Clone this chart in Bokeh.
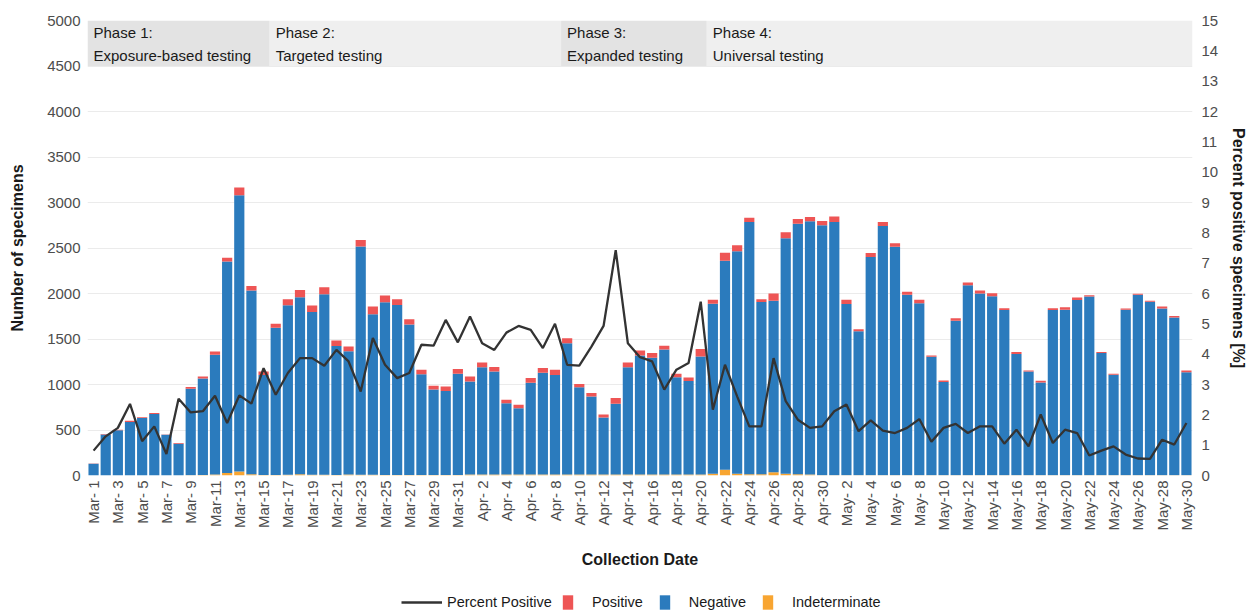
import math
import pandas as pd
from bokeh.plotting import figure
from bokeh.layouts import column
from bokeh.models import (Range1d, LinearAxis, FixedTicker, ColumnDataSource,
                          Legend, LegendItem)
from bokeh.core.properties import value
from bokeh.embed import file_html
from bokeh.resources import INLINE

# ---------------- data ----------------
dates = pd.date_range("2020-03-01", "2020-05-30", freq="D")
date_labels = [f"{d:%b}-{d.day:>2}" for d in dates]

negative = [130, 451, 496, 589, 633, 676, 447, 349, 950, 1061,
            1317, 2326, 3037, 2019, 1099, 1618, 1864, 1945, 1788, 1985,
            1418, 1355, 2508, 1765, 1900, 1870, 1655, 1107, 940, 924,
            1114, 1022, 1179, 1132, 784, 730, 1010, 1120, 1094, 1442,
            957, 855, 624, 776, 1177, 1308, 1282, 1373, 1067, 1026,
            1297, 1868, 2298, 2443, 2772, 1891, 1884, 2587, 2751, 2785,
            2748, 2784, 1882, 1581, 2398, 2740, 2512, 1983, 1891, 1301,
            1025, 1697, 2087, 1996, 1968, 1817, 1333, 1141, 1018, 1816,
            1819, 1925, 1965, 1342, 1104, 1819, 1982, 1905, 1832, 1733,
            1132]

positive = [1, 6, 8, 14, 7, 11, 3, 9, 20, 23,
            36, 41, 84, 49, 40, 44, 65, 79, 72, 75,
            61, 53, 72, 84, 72, 62, 58, 50, 42, 50,
            51, 57, 54, 49, 39, 38, 51, 50, 58, 55,
            36, 39, 33, 63, 54, 54, 51, 40, 39, 40,
            80, 42, 89, 66, 46, 31, 78, 65, 52, 45,
            45, 60, 45, 24, 44, 42, 36, 32, 36, 15,
            17, 29, 30, 33, 32, 19, 20, 11, 21, 20,
            28, 27, 13, 11, 11, 13, 11, 11, 22, 18,
            20]

indeterminate = [0, 0, 0, 0, 0, 0, 0, 0, 2, 5,
                 10, 27, 44, 15, 5, 5, 8, 15, 8, 8,
                 5, 10, 8, 8, 5, 5, 5, 5, 5, 5,
                 5, 10, 10, 10, 10, 10, 10, 10, 10, 12,
                 12, 12, 12, 12, 12, 12, 12, 12, 12, 12,
                 12, 20, 62, 20, 15, 15, 37, 20, 15, 10,
                 3, 3, 3, 3, 3, 3, 3, 3, 3, 3,
                 3, 3, 3, 3, 3, 3, 3, 3, 3, 3,
                 3, 3, 3, 3, 3, 3, 3, 3, 3, 3,
                 3]

pct_positive = [0.82, 1.29, 1.57, 2.36, 1.13, 1.62, 0.71, 2.53, 2.08, 2.12,
                2.63, 1.73, 2.64, 2.37, 3.54, 2.66, 3.38, 3.87, 3.87, 3.62,
                4.14, 3.76, 2.77, 4.53, 3.65, 3.21, 3.38, 4.31, 4.28, 5.13,
                4.39, 5.24, 4.36, 4.14, 4.71, 4.93, 4.80, 4.20, 5.00, 3.65,
                3.62, 4.25, 4.93, 7.43, 4.36, 3.90, 3.76, 2.83, 3.49, 3.71,
                5.73, 2.17, 3.65, 2.61, 1.62, 1.62, 3.87, 2.45, 1.84, 1.57,
                1.62, 2.12, 2.34, 1.46, 1.82, 1.48, 1.40, 1.57, 1.86, 1.11,
                1.57, 1.70, 1.40, 1.62, 1.62, 1.05, 1.51, 0.96, 2.01, 1.07,
                1.51, 1.40, 0.66, 0.82, 0.96, 0.69, 0.56, 0.55, 1.18, 1.02,
                1.73]

phase_titles = ["Phase 1:", "Phase 2:", "Phase 3:", "Phase 4:"]
phase_descs = ["Exposure-based testing", "Targeted testing",
               "Expanded testing", "Universal testing"]
phase_starts = ["2020-03-01", "2020-03-16", "2020-04-09", "2020-04-21"]
phase_colors = ["#e3e3e3", "#efefef", "#e3e3e3", "#efefef"]

series_labels = ["Percent Positive", "Positive", "Negative", "Indeterminate"]

# ---------------- derived ----------------
n = len(dates)
xs = list(range(n))
start_idx = [dates.get_loc(pd.Timestamp(s)) for s in phase_starts]
end_idx = start_idx[1:] + [n]
p_left = [s - 0.5 for s in start_idx]
p_right = [e - 0.5 for e in end_idx]

source = ColumnDataSource(dict(x=xs, ind=indeterminate, neg=negative,
                               pos=positive, pct=pct_positive))

FONT = "Liberation Sans"
C_BLUE = "#2b7bbd"
C_RED = "#ee5555"
C_ORANGE = "#f8a531"
C_LINE = "#333333"
TXT = "#1a1a1a"
TICK = "#4d4d4d"

W = 1250
p = figure(width=W, height=570, output_backend="svg", toolbar_location=None,
           x_range=Range1d(-0.5, n - 0.5), y_range=Range1d(0, 5000),
           min_border_left=87, min_border_right=55, min_border_top=20,
           min_border_bottom=94)
p.extra_y_ranges = {"pct": Range1d(0, 15)}
p.outline_line_color = None

# phase boxes
p.quad(left=p_left, right=p_right, bottom=4500, top=5000,
       fill_color=phase_colors, line_color=None)
p.text(x=p_left, y=[5000] * 4, text=phase_titles, x_offset=6, y_offset=12,
       text_baseline="middle", text_align="left", text_font=value(FONT),
       text_font_size="15px", text_color=TXT)
p.text(x=p_left, y=[5000] * 4, text=phase_descs, x_offset=6, y_offset=35,
       text_baseline="middle", text_align="left", text_font=value(FONT),
       text_font_size="15px", text_color=TXT)

# bars
bars = p.vbar_stack(["ind", "neg", "pos"], x="x", width=0.84, source=source,
                    color=[C_ORANGE, C_BLUE, C_RED], line_color=None)

# line
line_r = p.line("x", "pct", source=source, y_range_name="pct",
                line_color=C_LINE, line_width=2.3)

# grid
p.xgrid.visible = False
p.ygrid.ticker = FixedTicker(ticks=list(range(0, 5001, 500)))
p.ygrid.grid_line_color = "#ebebeb"
p.ygrid.grid_line_width = 1


def style_axis(ax, label, size):
    ax.major_label_text_font = FONT
    ax.major_label_text_font_size = size
    ax.major_label_text_color = TICK
    ax.axis_line_color = None
    ax.major_tick_line_color = None
    ax.minor_tick_line_color = None
    ax.major_tick_out = 0
    ax.major_tick_in = 0
    ax.axis_label = label
    ax.axis_label_text_font = FONT
    ax.axis_label_text_font_style = "bold"
    ax.axis_label_text_font_size = "16px"
    ax.axis_label_text_color = TXT


# x axis
xa = p.xaxis[0]
style_axis(xa, "Collection Date", "15px")
xa.ticker = FixedTicker(ticks=list(range(0, n, 2)))
xa.major_label_overrides = {i: date_labels[i] for i in range(0, n, 2)}
xa.major_label_orientation = math.pi / 2
xa.major_label_standoff = 5
xa.axis_label_standoff = 17

# left axis
ya = p.yaxis[0]
style_axis(ya, "Number of specimens", "15px")
ya.ticker = FixedTicker(ticks=list(range(0, 5001, 500)))
ya.major_label_standoff = 7
ya.axis_label_standoff = 18

# right axis
ra = LinearAxis(y_range_name="pct", ticker=FixedTicker(ticks=list(range(0, 16))))
style_axis(ra, "Percent positive specimens [%]", "15px")
ra.major_label_standoff = 9
ra.axis_label_standoff = 9
p.add_layout(ra, "right")

# ---------------- legend strip ----------------
lg = figure(width=W, height=42, output_backend="svg", toolbar_location=None,
            x_range=Range1d(0, 1), y_range=Range1d(0, 1), min_border=0)
lg.axis.visible = False
lg.grid.visible = False
lg.outline_line_color = None
# key renderers sit far outside the visible range; only their legend keys show
k_line = lg.line(x=[-20, -19], y=[-20, -20], line_color=C_LINE, line_width=2.3)
k_pos = lg.vbar(x=[-20], bottom=[-21], top=[-20], width=1, color=C_RED, line_color=None)
k_neg = lg.vbar(x=[-20], bottom=[-21], top=[-20], width=1, color=C_BLUE, line_color=None)
k_ind = lg.vbar(x=[-20], bottom=[-21], top=[-20], width=1, color=C_ORANGE, line_color=None)

common = dict(orientation="horizontal", border_line_color=None,
              background_fill_alpha=0, label_text_font=FONT,
              label_text_font_size="14.5px", label_text_color=TXT,
              glyph_height=18, padding=2, margin=0)
leg1 = Legend(items=[LegendItem(label=series_labels[0], renderers=[k_line])],
              location=(314, 1), glyph_width=41, label_standoff=5, **common)
leg2 = Legend(items=[LegendItem(label=series_labels[1], renderers=[k_pos]),
                     LegendItem(label=series_labels[2], renderers=[k_neg]),
                     LegendItem(label=series_labels[3], renderers=[k_ind])],
              location=(474, 1), glyph_width=13, label_standoff=18, spacing=15,
              **common)
lg.add_layout(leg1, "center")
lg.add_layout(leg2, "center")

open("out.html", "w").write(file_html(column(p, lg), INLINE))
